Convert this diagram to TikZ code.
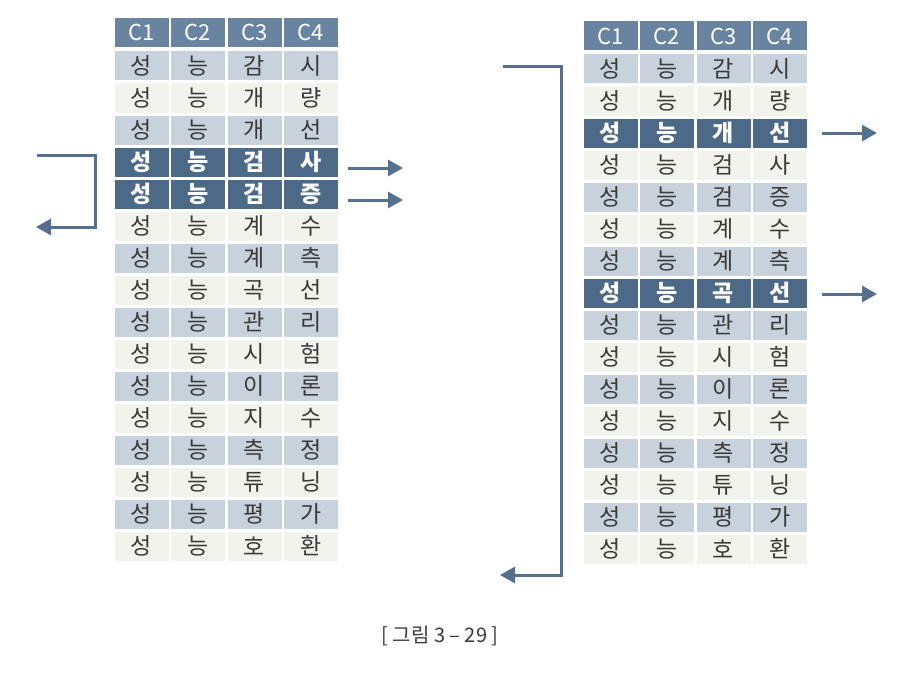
\documentclass[tikz,border=0pt]{standalone}
\usepackage{fontspec}
\setmainfont{Noto Sans CJK KR}
\usetikzlibrary{arrows.meta}
\definecolor{hdc}{RGB}{104,132,160}
\definecolor{hlc}{RGB}{76,106,136}
\definecolor{ltc}{RGB}{199,210,220}
\definecolor{wtc}{RGB}{243,243,237}
\definecolor{txc}{RGB}{58,58,58}
\definecolor{arc}{RGB}{84,112,140}
\tikzset{
  cell/.style={minimum width=54pt,minimum height=29pt,inner sep=0pt,font=\fontsize{23}{23}\selectfont,anchor=center},
  hd/.style={fill=hdc,text=white,font=\fontsize{22}{22}\selectfont},
  hl/.style={fill=hlc,text=white,font=\fontsize{23}{23}\selectfont\bfseries},
  lt/.style={fill=ltc,text=txc},
  wt/.style={fill=wtc,text=txc},
  arr/.style={draw=arc,line width=3pt,-{Triangle[length=15pt,width=16pt]}},
}
\begin{document}
\begin{tikzpicture}[x=1pt,y=-1pt]
\useasboundingbox (0,0) rectangle (897,677);
\fill[white] (0,0) rectangle (897,677);
% headers
\foreach \j in {1,...,4}{
  \node[cell,hd] (LH\j) at ({141.5+56.5*(\j-1)},32.5) {C\j};
  \node[cell,hd] (RH\j) at ({610.5+56.5*(\j-1)},36) {C\j};
}
\foreach \a/\b [count=\i] in {감/시,개/량,개/선,검/사,검/증,계/수,계/측,곡/선,관/리,시/험,이/론,지/수,측/정,튜/닝,평/가,호/환}{
  \pgfmathsetmacro\yl{66+32*(\i-1)}
  \pgfmathsetmacro\yr{69+32*(\i-1)}
  \pgfmathtruncatemacro\hlL{(\i==4)||(\i==5)}
  \pgfmathtruncatemacro\hlR{(\i==3)||(\i==8)}
  \ifodd\i \def\base{lt}\else\def\base{wt}\fi
  \ifnum\hlL=1 \def\sl{hl}\else\let\sl\base\fi
  \ifnum\hlR=1 \def\sr{hl}\else\let\sr\base\fi
  \node[cell,\sl] (L\i-1) at (141.5,\yl) {성};
  \node[cell,\sl] (L\i-2) at (198,\yl) {능};
  \node[cell,\sl] (L\i-3) at (254.5,\yl) {\a};
  \node[cell,\sl] (L\i-4) at (311,\yl) {\b};
  \node[cell,\sr] (R\i-1) at (610.5,\yr) {성};
  \node[cell,\sr] (R\i-2) at (667,\yr) {능};
  \node[cell,\sr] (R\i-3) at (723.5,\yr) {\a};
  \node[cell,\sr] (R\i-4) at (780,\yr) {\b};
}
% left bracket
\coordinate (la1) at (37,155);
\coordinate (la2) at (95,155);
\coordinate (la3) at (95,227);
\coordinate (la4) at (36,227);
\draw[arr] (la1) -- (la2) -- (la3) -- (la4);
% left out arrows
\coordinate (lo1s) at (348,168); \coordinate (lo1e) at (403,168);
\coordinate (lo2s) at (348,200); \coordinate (lo2e) at (403,200);
\draw[arr] (lo1s) -- (lo1e);
\draw[arr] (lo2s) -- (lo2e);
% right bracket
\coordinate (ra1) at (503,67);
\coordinate (ra2) at (561,67);
\coordinate (ra3) at (561,575);
\coordinate (ra4) at (500,575);
\draw[arr] (ra1) -- (ra2) -- (ra3) -- (ra4);
% right out arrows
\coordinate (ro1s) at (822,133); \coordinate (ro1e) at (877,133);
\coordinate (ro2s) at (822,294); \coordinate (ro2e) at (877,294);
\draw[arr] (ro1s) -- (ro1e);
\draw[arr] (ro2s) -- (ro2e);
% caption
\node[font=\fontsize{20}{20}\selectfont,text=txc] (cap) at (440,636) {[ 그림 3 – 29 ]};
\end{tikzpicture}
\end{document}
